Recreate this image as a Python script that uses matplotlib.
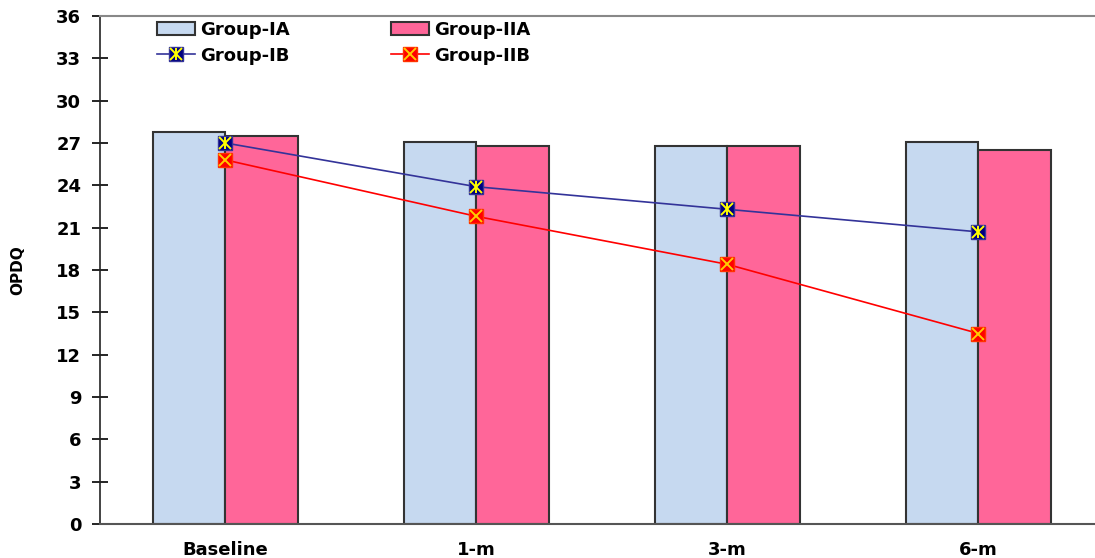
import matplotlib
matplotlib.use("Agg")
import matplotlib.pyplot as plt
import numpy as np

# values
categories = ["Baseline", "1-m", "3-m", "6-m"]
group_ia  = [27.8, 27.1, 26.8, 27.1]
group_iia = [27.5, 26.8, 26.8, 26.5]
group_ib  = [27.0, 23.9, 22.3, 20.7]
group_iib = [25.8, 21.8, 18.4, 13.5]
yticks = list(range(0, 37, 3))

plt.rcParams["font.family"] = ["DejaVu Sans"]
plt.rcParams["font.weight"] = "bold"


def main():
    fig = plt.figure(figsize=(10.95, 5.58), dpi=100)
    ax = fig.add_axes([100 / 1095, 34 / 558, 1004 / 1095, 508 / 558])

    x = np.arange(len(categories))
    w = 0.287
    b1 = ax.bar(x - w / 2, group_ia, w, color="#C6D9F0", edgecolor="#333333",
                linewidth=1.5, label="Group-IA", zorder=2)
    b2 = ax.bar(x + w / 2, group_iia, w, color="#FF6699", edgecolor="#333333",
                linewidth=1.5, label="Group-IIA", zorder=2)

    l1, = ax.plot(x, group_ib, color="#333399", lw=1.2, marker="s", ms=10,
                  mfc="#000080", mec="#333399", zorder=4)
    m1a, = ax.plot(x, group_ib, ls="none", marker="x", ms=8, mew=1.4,
                   color="#FFFF00", zorder=5)
    m1b, = ax.plot(x, group_ib, ls="none", marker="|", ms=9, mew=1.4,
                   color="#FFFF00", zorder=5)

    l2, = ax.plot(x, group_iib, color="#FF0000", lw=1.2, marker="s", ms=10,
                  mfc="#FF0000", mec="#FF3300", zorder=4)
    m2, = ax.plot(x, group_iib, ls="none", marker="x", ms=8, mew=1.4,
                  color="#FFCC00", zorder=5)

    ax.set_xlim(-0.5, 3.5)
    ax.set_ylim(0, 36)
    ax.set_yticks(yticks)
    ax.set_xticks(x)
    ax.set_xticklabels(categories)
    ax.tick_params(axis="y", direction="inout", length=11, width=1.2,
                   pad=8, labelsize=13)
    ax.tick_params(axis="x", length=0, pad=12, labelsize=13)
    ax.set_ylabel("OPDQ", fontsize=11, fontweight="bold", labelpad=22)

    ax.spines["right"].set_visible(False)
    ax.spines["top"].set_color("#888888")
    ax.spines["top"].set_linewidth(1.5)
    ax.spines["bottom"].set_color("#555555")
    ax.spines["bottom"].set_linewidth(1.5)
    ax.spines["left"].set_color("#222222")
    ax.spines["left"].set_linewidth(1.2)

    handles = [b1, (l1, m1a, m1b), b2, (l2, m2)]
    labels = ["Group-IA", "Group-IB", "Group-IIA", "Group-IIB"]
    fig.legend(handles, labels, loc="upper left",
               bbox_to_anchor=(157 / 1095, 1 - 21 / 558), ncol=2,
               frameon=False, fontsize=13, handlelength=2.1,
               handletextpad=0.3, columnspacing=5.6, labelspacing=0.42,
               borderpad=0, borderaxespad=0)

    fig.savefig("out.png", dpi=100, facecolor="white")
    plt.close(fig)


if __name__ == "__main__":
    main()
